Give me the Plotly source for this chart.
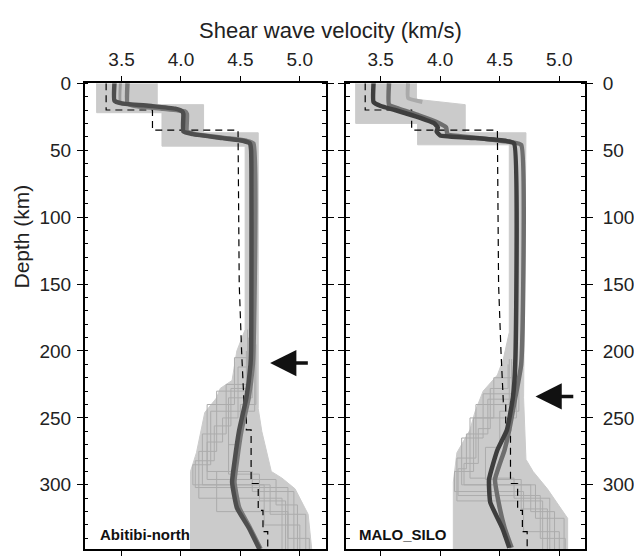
import plotly.graph_objects as go

# ---------------- data ----------------
# reference (dashed) model, shared by both panels
ref_depth = [0, 20, 20, 35, 35, 150, 200, 238, 238, 259, 259, 299, 299, 319, 319, 335, 335, 348]
ref_vs    = [3.37, 3.37, 3.76, 3.76, 4.48, 4.49, 4.51, 4.53, 4.55, 4.55, 4.59, 4.59, 4.65, 4.65, 4.69, 4.69, 4.73, 4.73]

# ensemble envelope, left panel (Abitibi-north)
envL_right_depth = [0, 16, 16, 37, 37, 243, 260, 290, 295, 303, 322, 348]
envL_right_vs    = [3.80, 3.80, 4.19, 4.19, 4.65, 4.65, 4.68, 4.76, 4.85, 4.96, 5.07, 5.10]
envL_left_depth  = [348, 290, 276, 262, 246, 235, 228, 222, 200, 184, 47, 47, 22, 22, 0]
envL_left_vs     = [4.08, 4.08, 4.13, 4.16, 4.20, 4.30, 4.33, 4.43, 4.47, 4.54, 4.54, 3.84, 3.84, 3.29, 3.29]

# ensemble envelope, right panel (MALO_SILO)
envR_right_depth = [0, 12, 16, 37, 37, 235, 281, 290, 303, 325, 348]
envR_right_vs    = [3.80, 3.80, 4.21, 4.21, 4.72, 4.70, 4.72, 4.78, 4.90, 5.07, 5.07]
envR_left_depth  = [348, 298, 276, 259, 246, 230, 218, 206, 186, 46, 46, 30, 30, 0]
envR_left_vs     = [4.11, 4.11, 4.14, 4.25, 4.29, 4.36, 4.48, 4.53, 4.58, 4.58, 3.81, 3.81, 3.29, 3.29]

# a few individual ensemble models (step profiles), deep part
stepsL = [
    ([184, 205, 205, 240, 240, 290, 290, 305, 305, 348], [4.58, 4.58, 4.45, 4.45, 4.22, 4.22, 4.60, 4.60, 4.95, 4.95]),
    ([184, 225, 225, 262, 262, 300, 300, 322, 322, 348], [4.60, 4.60, 4.38, 4.38, 4.18, 4.18, 4.75, 4.75, 5.05, 5.05]),
    ([184, 230, 230, 275, 275, 310, 310, 348],           [4.56, 4.56, 4.30, 4.30, 4.15, 4.15, 4.85, 4.85]),
    ([184, 245, 245, 285, 285, 300, 300, 330, 330, 348], [4.62, 4.62, 4.25, 4.25, 4.10, 4.10, 4.70, 4.70, 5.00, 5.00]),
    ([184, 235, 235, 290, 290, 320, 320, 348],           [4.60, 4.60, 4.40, 4.40, 4.30, 4.30, 4.90, 4.90]),
    ([190, 212, 212, 250, 250, 268, 268, 296, 296, 315, 315, 348], [4.57, 4.57, 4.48, 4.48, 4.35, 4.35, 4.22, 4.22, 4.80, 4.80, 4.98, 4.98]),
    ([200, 228, 228, 256, 256, 282, 282, 302, 302, 340, 340, 348], [4.55, 4.55, 4.42, 4.42, 4.28, 4.28, 4.12, 4.12, 4.90, 4.90, 5.08, 5.08]),
    ([195, 240, 240, 270, 270, 292, 292, 312, 312, 348], [4.63, 4.63, 4.50, 4.50, 4.40, 4.40, 4.66, 4.66, 4.88, 4.88]),
]
stepsR = [
    ([206, 220, 220, 250, 250, 295, 295, 310, 310, 348], [4.60, 4.60, 4.45, 4.45, 4.25, 4.25, 4.62, 4.62, 4.92, 4.92]),
    ([206, 232, 232, 265, 265, 300, 300, 325, 325, 348], [4.62, 4.62, 4.36, 4.36, 4.18, 4.18, 4.80, 4.80, 5.04, 5.04]),
    ([206, 240, 240, 280, 280, 312, 312, 348],           [4.58, 4.58, 4.30, 4.30, 4.14, 4.14, 4.86, 4.86]),
    ([206, 250, 250, 290, 290, 305, 305, 335, 335, 348], [4.64, 4.64, 4.28, 4.28, 4.12, 4.12, 4.70, 4.70, 5.00, 5.00]),
    ([210, 228, 228, 258, 258, 284, 284, 300, 300, 320, 320, 348], [4.57, 4.57, 4.42, 4.42, 4.32, 4.32, 4.20, 4.20, 4.76, 4.76, 4.96, 4.96]),
    ([215, 245, 245, 272, 272, 296, 296, 318, 318, 348], [4.66, 4.66, 4.50, 4.50, 4.38, 4.38, 4.68, 4.68, 4.90, 4.90]),
    ([208, 236, 236, 262, 262, 288, 288, 308, 308, 340, 340, 348], [4.60, 4.60, 4.40, 4.40, 4.22, 4.22, 4.15, 4.15, 4.84, 4.84, 5.05, 5.05]),
]

# mean models
meanL_a_depth = [0, 13, 15, 17, 19, 21, 23, 36, 38, 41, 43, 45, 50, 200, 210, 235, 259, 283, 298, 317, 332, 348]
meanL_a_vs    = [3.44, 3.44, 3.50, 3.75, 3.95, 4.01, 4.02, 4.02, 4.10, 4.35, 4.52, 4.58, 4.59, 4.59, 4.585, 4.55, 4.49, 4.45, 4.43, 4.47, 4.57, 4.66]
meanL_b_depth = [0, 15, 17, 19, 21, 23, 36, 38, 41, 43, 45, 200, 210, 235, 259, 283, 298, 317, 332, 348]
meanL_b_vs    = [3.55, 3.55, 3.62, 3.85, 4.03, 4.05, 4.05, 4.12, 4.38, 4.55, 4.61, 4.61, 4.605, 4.57, 4.51, 4.47, 4.45, 4.49, 4.58, 4.67]
meanL_c_depth = [0, 14, 16, 18]
meanL_c_vs    = [3.49, 3.49, 3.56, 3.68]

meanR_a_depth = [0, 14, 17, 20, 25, 30, 33, 36, 39, 41, 43, 45, 210, 235, 259, 274, 296, 313, 332, 347]
meanR_a_vs    = [3.44, 3.44, 3.50, 3.62, 3.80, 3.95, 3.98, 3.97, 4.00, 4.30, 4.55, 4.62, 4.63, 4.61, 4.56, 4.48, 4.41, 4.42, 4.52, 4.58]
meanR_b_depth = [0, 16, 19, 24, 29, 33, 38, 41, 44, 46, 210, 235, 259, 274, 296, 313, 332, 347]
meanR_b_vs    = [3.57, 3.57, 3.65, 3.82, 3.97, 4.05, 4.06, 4.33, 4.60, 4.68, 4.68, 4.63, 4.58, 4.54, 4.46, 4.49, 4.54, 4.60]
meanR_c_depth = [0, 11, 14]
meanR_c_vs    = [3.73, 3.73, 3.85]

panel_labels = ["Abitibi-north", "MALO_SILO"]
arrow_depths = [209, 234]
arrow_head_vs = [4.75, 4.80]
arrow_tail_vs = [5.08, 5.13]

x_ticks = [3.5, 4.0, 4.5, 5.0]
x_ticktext = ["3.5", "4.0", "4.5", "5.0"]
y_ticks = [0, 50, 100, 150, 200, 250, 300]

# ---------------- figure ----------------
fig = go.Figure()
ENV = "#cbcbcb"
STEP = "#acacac"

def add_panel(xa, ya, env_r_d, env_r_v, env_l_d, env_l_v, steps, means):
    fig.add_trace(go.Scatter(x=env_r_v + env_l_v, y=env_r_d + env_l_d, fill="toself",
                             fillcolor=ENV, line=dict(color=ENV, width=1),
                             mode="lines", hoverinfo="skip", xaxis=xa, yaxis=ya, showlegend=False))
    for d, v in steps:
        fig.add_trace(go.Scatter(x=v, y=d, mode="lines", line=dict(color=STEP, width=1),
                                 xaxis=xa, yaxis=ya, showlegend=False, hoverinfo="skip"))
    fig.add_trace(go.Scatter(x=ref_vs, y=ref_depth, mode="lines",
                             line=dict(color="black", width=1.2, dash="7px,5px"),
                             xaxis=xa, yaxis=ya, showlegend=False))
    for (d, v, c, w) in means:
        fig.add_trace(go.Scatter(x=v, y=d, mode="lines", line=dict(color=c, width=w, shape="spline", smoothing=0.4),
                                 xaxis=xa, yaxis=ya, showlegend=False))

add_panel("x", "y", envL_right_depth, envL_right_vs, envL_left_depth, envL_left_vs, stepsL,
          [(meanL_c_depth, meanL_c_vs, "#9a9a9a", 3),
           (meanL_b_depth, meanL_b_vs, "#7a7a7a", 4.5),
           (meanL_a_depth, meanL_a_vs, "#4e4e4e", 4.5)])
add_panel("x2", "y2", envR_right_depth, envR_right_vs, envR_left_depth, envR_left_vs, stepsR,
          [(meanR_c_depth, meanR_c_vs, "#aaaaaa", 4),
           (meanR_b_depth, meanR_b_vs, "#6e6e6e", 4.5),
           (meanR_a_depth, meanR_a_vs, "#3e3e3e", 4.5)])

W, H = 634, 556
font = "Liberation Sans, Arial, sans-serif"
xcommon = dict(side="top", tickvals=x_ticks, ticktext=x_ticktext, ticks="outside", ticklen=5,
               tickcolor="black", tickwidth=1, showline=True, linecolor="black", linewidth=1.5,
               mirror="ticks", showgrid=False, zeroline=False, ticklabelstandoff=3,
               tickfont=dict(family=font, size=19, color="#222"))
ycommon = dict(range=[348, 0], tickvals=y_ticks, ticks="outside", ticklen=6, tickcolor="black",
               tickwidth=1, showline=True, linecolor="black", linewidth=1.5, mirror="ticks",
               showgrid=False, zeroline=False,
               minor=dict(dtick=10, ticks="inside", ticklen=4, tickcolor="black", tickwidth=1, showgrid=False),
               tickfont=dict(family=font, size=19, color="#222"))

ytop, ybot = 1 - 75 / H, 1 - 552 / H
fig.update_layout(
    width=W, height=H, margin=dict(l=0, r=0, t=0, b=0),
    paper_bgcolor="white", plot_bgcolor="white",
    xaxis=dict(domain=[85 / W, 327 / W], range=[3.19, 5.22], anchor="y", **xcommon),
    xaxis2=dict(domain=[347 / W, 587 / W], range=[3.208, 5.217], anchor="y2", **xcommon),
    yaxis=dict(domain=[ybot, ytop], anchor="x", side="left", ticklabelstandoff=2, **ycommon),
    yaxis2=dict(domain=[ybot, ytop], anchor="x2", side="right", ticklabelstandoff=6, **ycommon),
)

fig.add_annotation(text="Shear wave velocity (km/s)", xref="paper", yref="paper",
                   x=332 / W, y=1 - 21 / H, showarrow=False, xanchor="center", yanchor="middle",
                   font=dict(family=font, size=22, color="#222"))
fig.add_annotation(text="Depth (km)", xref="paper", yref="paper", x=22 / W, y=1 - 232 / H,
                   textangle=-90, showarrow=False, xanchor="center", yanchor="middle",
                   font=dict(family=font, size=21, color="#222"))

for i, (xr, yr) in enumerate([("x", "y"), ("x2", "y2")]):
    fig.add_annotation(text="<b>" + panel_labels[i] + "</b>", xref=xr, yref=yr, x=3.30, y=337,
                       xanchor="left", yanchor="middle", showarrow=False,
                       font=dict(family=font, size=15, color="#111"))
    fig.add_annotation(x=arrow_head_vs[i], y=arrow_depths[i], ax=arrow_tail_vs[i], ay=arrow_depths[i],
                       xref=xr, yref=yr, axref=xr, ayref=yr, text="", showarrow=True,
                       arrowhead=2, arrowsize=1.5, arrowwidth=3.5, arrowcolor="#111")

fig.write_html("out.html", post_script="document.body.style.margin='0px';")
